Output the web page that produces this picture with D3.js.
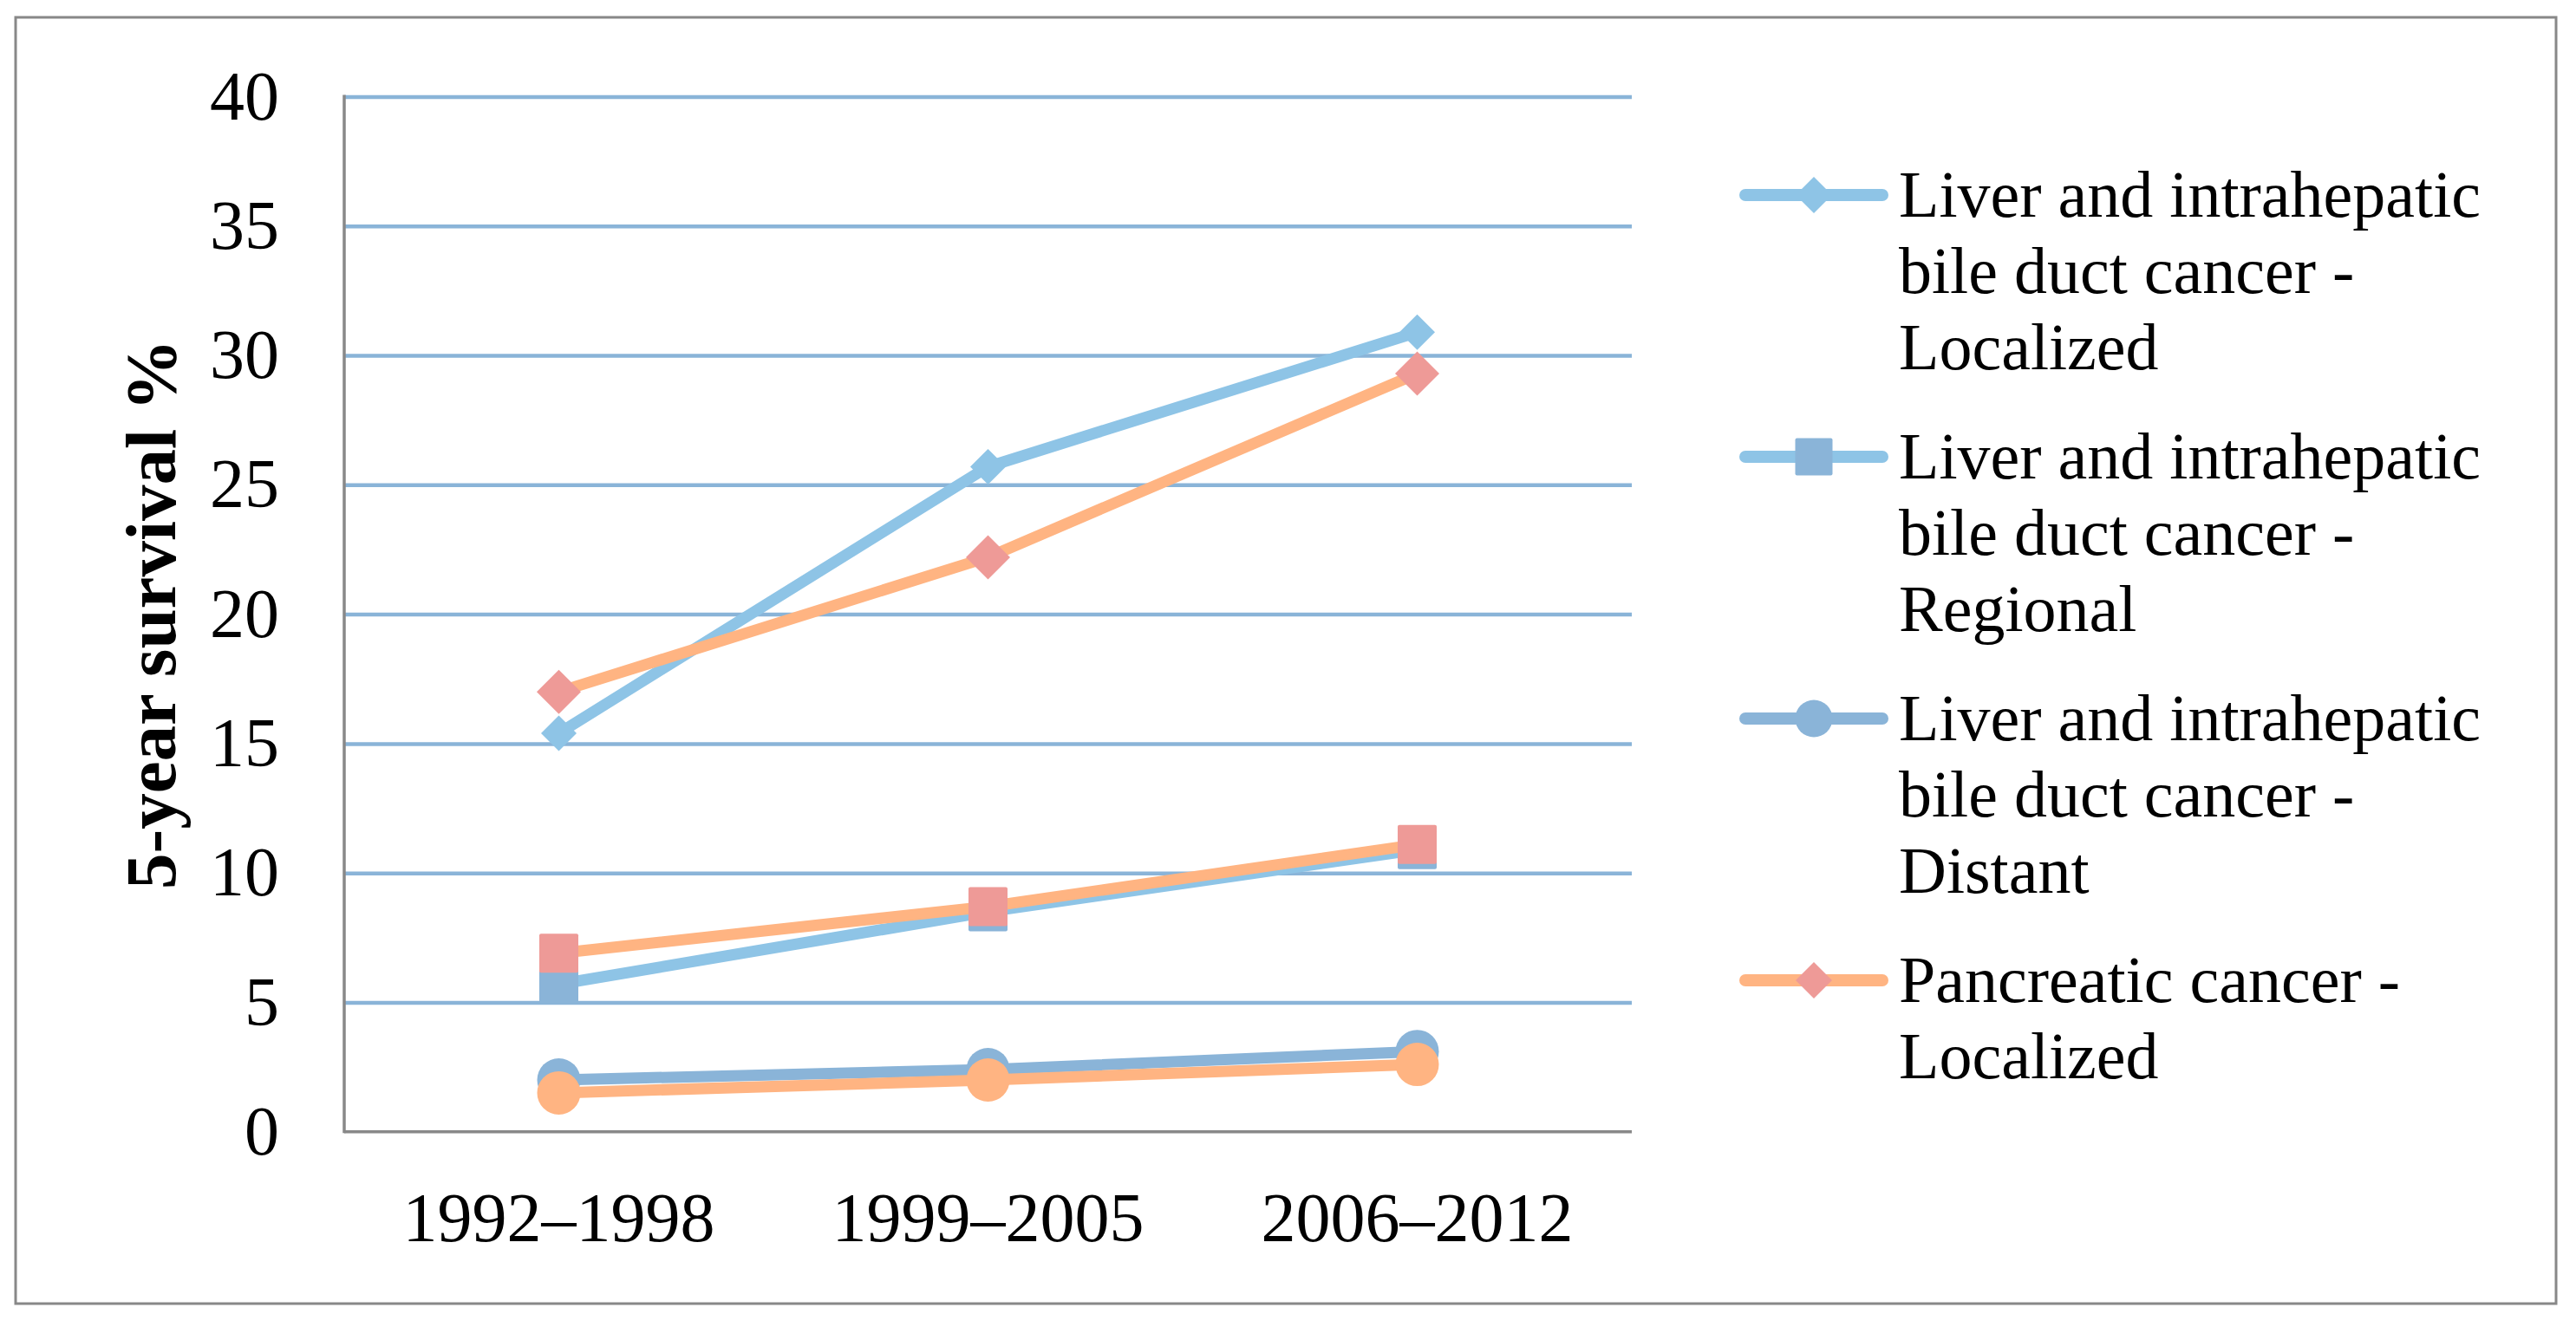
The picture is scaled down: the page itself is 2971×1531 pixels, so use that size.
<!DOCTYPE html>
<html>
<head>
<meta charset="utf-8">
<script src="https://cdn.jsdelivr.net/npm/d3@7"></script>
<style>
  body { margin: 0; background: #fff; }
  text { font-family: "Liberation Serif", "Times New Roman", serif; fill: #000; }
</style>
</head>
<body>
<div id="chart"></div>
<script>
const periods = ["1992–1998", "1999–2005", "2006–2012"];
const yTicks = [0, 5, 10, 15, 20, 25, 30, 35, 40];

const liverLocalized = [15.4, 25.7, 30.9];
const liverRegional = [5.7, 8.5, 10.9];
const liverDistant = [2.0, 2.4, 3.1];
const pancLocalized = [17.0, 22.2, 29.3];
const pancRegional = [6.9, 8.7, 11.1];
const pancDistant = [1.5, 2.0, 2.6];

const legendNames = [
  ["Liver and intrahepatic", "bile duct cancer -", "Localized"],
  ["Liver and intrahepatic", "bile duct cancer -", "Regional"],
  ["Liver and intrahepatic", "bile duct cancer -", "Distant"],
  ["Pancreatic cancer -", "Localized"]
];

const lightBlue = "#8ec4e6";
const steelBlue = "#8ab4d8";
const orange = "#ffb482";
const pink = "#ee9a97";

const series = [
  { values: liverLocalized, line: lightBlue, marker: "diamond", fill: lightBlue, size: 41 },
  { values: liverRegional, line: lightBlue, marker: "square", fill: steelBlue, size: 45 },
  { values: liverDistant, line: steelBlue, marker: "circle", fill: steelBlue, size: 50 },
  { values: pancLocalized, line: orange, marker: "diamond", fill: pink, size: 51 },
  { values: pancRegional, line: orange, marker: "square", fill: pink, size: 45 },
  { values: pancDistant, line: orange, marker: "circle", fill: orange, size: 50 }
];

const W = 2971, H = 1531;
const plot = { left: 397, right: 1882, top: 111.5, bottom: 1305.7 };

const svg = d3.select("#chart").append("svg")
  .attr("width", W)
  .attr("height", H);

// outer frame
svg.append("rect")
  .attr("x", 18).attr("y", 20)
  .attr("width", 2930).attr("height", 1484)
  .attr("fill", "#fff")
  .attr("stroke", "#888")
  .attr("stroke-width", 3);

const x = d3.scaleBand().domain(periods).range([plot.left, plot.right]);
const y = d3.scaleLinear().domain([0, 40]).range([plot.bottom, plot.top]);
const cx = d => x(d) + x.bandwidth() / 2;

// gridlines
svg.append("g")
  .attr("transform", `translate(${plot.left},0)`)
  .call(d3.axisLeft(y).tickValues(yTicks.filter(t => t > 0)).tickSize(-(plot.right - plot.left)).tickFormat(""))
  .call(g => g.select(".domain").remove())
  .call(g => g.selectAll("line").attr("stroke", steelBlue).attr("stroke-width", 4.5));

// y labels
svg.append("g")
  .attr("transform", `translate(${plot.left},0)`)
  .call(d3.axisLeft(y).tickValues(yTicks).tickSize(0).tickPadding(75))
  .call(g => g.select(".domain").remove())
  .call(g => g.selectAll("text").style("font-size", "80px").attr("font-family", null));

// x labels
svg.append("g")
  .attr("transform", `translate(0,${plot.bottom})`)
  .call(d3.axisBottom(x).tickSize(0).tickPadding(70))
  .call(g => g.select(".domain").remove())
  .call(g => g.selectAll("text").style("font-size", "80px").attr("font-family", null));

// axis lines
svg.append("line")
  .attr("x1", plot.left).attr("x2", plot.left)
  .attr("y1", plot.top - 2).attr("y2", plot.bottom + 1.5)
  .attr("stroke", "#888").attr("stroke-width", 3.5);
svg.append("line")
  .attr("x1", plot.left).attr("x2", plot.right)
  .attr("y1", plot.bottom).attr("y2", plot.bottom)
  .attr("stroke", "#888").attr("stroke-width", 3.5);

svg.append("text")
  .attr("transform", `translate(202,${(plot.top + plot.bottom) / 2}) rotate(-90)`)
  .attr("text-anchor", "middle")
  .style("font-size", "83px")
  .style("font-weight", "bold")
  .text("5-year survival %");

function drawMarker(g, s, px, py) {
  if (s.marker === "diamond") {
    const h = s.size / 2;
    g.append("path")
      .attr("d", `M${px},${py - h}L${px + h},${py}L${px},${py + h}L${px - h},${py}Z`)
      .attr("fill", s.fill);
  } else if (s.marker === "square") {
    g.append("rect")
      .attr("x", px - s.size / 2).attr("y", py - s.size / 2)
      .attr("width", s.size).attr("height", s.size)
      .attr("rx", 2)
      .attr("fill", s.fill);
  } else {
    g.append("circle")
      .attr("cx", px).attr("cy", py).attr("r", s.size / 2)
      .attr("fill", s.fill);
  }
}

const line = d3.line()
  .x((d, i) => cx(periods[i]))
  .y(d => y(d));

series.forEach(s => {
  const g = svg.append("g");
  g.append("path")
    .datum(s.values)
    .attr("d", line)
    .attr("fill", "none")
    .attr("stroke", s.line)
    .attr("stroke-width", 13)
    .attr("stroke-linejoin", "round");
  s.values.forEach((v, i) => drawMarker(g, s, cx(periods[i]), y(v)));
});

// legend (only first four entries shown, as in the original)
const legend = svg.append("g");
legendNames.forEach((lines, i) => {
  const s = series[i];
  const ly = 225 + i * 302;
  const item = legend.append("g");
  item.append("line")
    .attr("x1", 2013).attr("x2", 2171)
    .attr("y1", ly).attr("y2", ly)
    .attr("stroke", s.line)
    .attr("stroke-width", 14)
    .attr("stroke-linecap", "round");
  drawMarker(item, Object.assign({}, s, { size: s.marker === "diamond" ? 42 : 43 }), 2092, ly);
  item.append("text")
    .attr("x", 2190)
    .attr("y", ly + 25)
    .style("font-size", "76px")
    .selectAll("tspan")
    .data(lines)
    .enter().append("tspan")
    .attr("x", 2190)
    .attr("dy", (d, j) => j === 0 ? 0 : 88)
    .text(d => d);
});
</script>
</body>
</html>
